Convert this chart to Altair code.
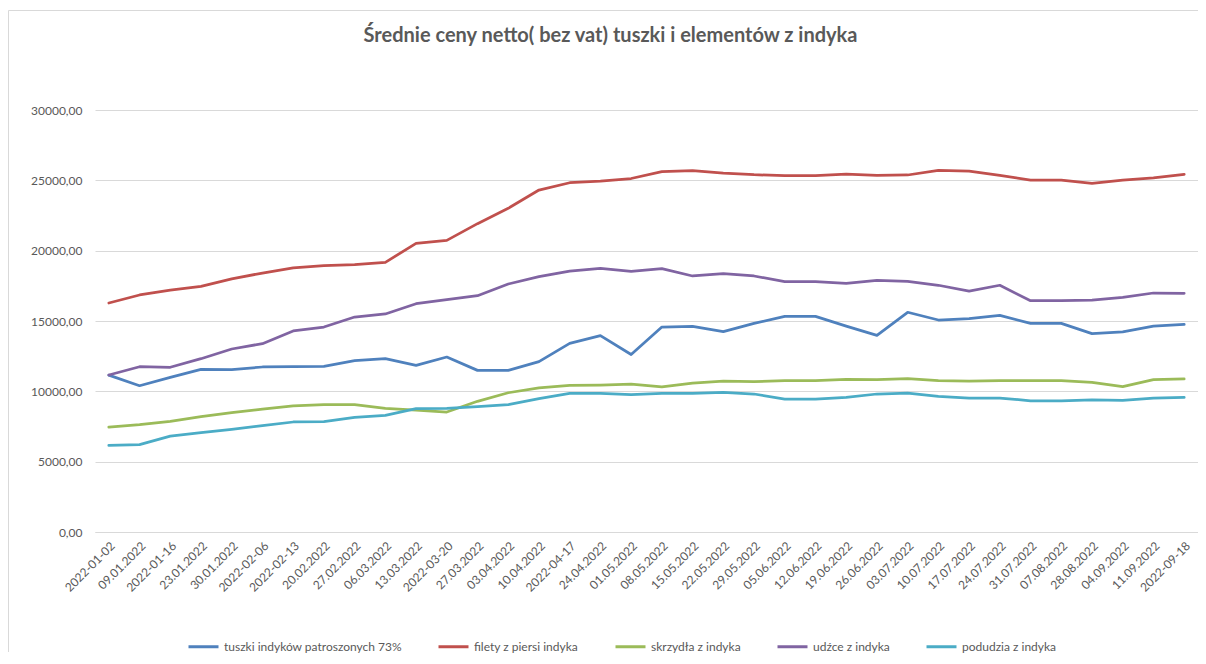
import altair as alt
import pandas as pd

dates = [
    "2022-01-02", "09.01.2022", "2022-01-16", "23.01.2022", "30.01.2022", "2022-02-06",
    "2022-02-13", "20.02.2022", "27.02.2022", "06.03.2022", "13.03.2022", "2022-03-20",
    "27.03.2022", "03.04.2022", "10.04.2022", "2022-04-17", "24.04.2022", "01.05.2022",
    "08.05.2022", "15.05.2022", "22.05.2022", "29.05.2022", "05.06.2022", "12.06.2022",
    "19.06.2022", "26.06.2022", "03.07.2022", "10.07.2022", "17.07.2022", "24.07.2022",
    "31.07.2022", "07.08.2022", "28.08.2022", "04.09.2022", "11.09.2022", "2022-09-18",
]

series_names = [
    "tuszki indyków patroszonych 73%",
    "filety z piersi indyka",
    "skrzydła z indyka",
    "udźce z indyka",
    "podudzia z indyka",
]

tuszki = [11150, 10400, 10990, 11560, 11540, 11730, 11750, 11780, 12180, 12320, 11850, 12440,
          11490, 11490, 12110, 13410, 13960, 12620, 14570, 14620, 14240, 14830, 15330, 15330,
          14640, 13980, 15620, 15070, 15170, 15400, 14830, 14830, 14100, 14220, 14640, 14760]
filety = [16280, 16850, 17200, 17460, 17990, 18410, 18770, 18930, 19000, 19170, 20520, 20730,
          21920, 23010, 24310, 24830, 24950, 25130, 25620, 25690, 25520, 25400, 25330, 25330,
          25450, 25360, 25380, 25710, 25660, 25360, 25020, 25020, 24790, 25020, 25170, 25430]
skrzydla = [7460, 7630, 7870, 8200, 8480, 8740, 8960, 9050, 9050, 8790, 8670, 8530,
            9290, 9900, 10240, 10420, 10450, 10510, 10310, 10590, 10730, 10690, 10760, 10760,
            10850, 10830, 10900, 10760, 10730, 10760, 10760, 10760, 10640, 10330, 10830, 10880]
udzce = [11160, 11750, 11710, 12320, 13010, 13390, 14290, 14570, 15280, 15500, 16230, 16520,
         16800, 17630, 18150, 18550, 18740, 18520, 18720, 18200, 18360, 18200, 17800, 17800,
         17680, 17890, 17820, 17540, 17130, 17540, 16440, 16440, 16490, 16680, 16990, 16970]
podudzia = [6160, 6210, 6820, 7060, 7300, 7560, 7820, 7840, 8150, 8290, 8770, 8790,
            8910, 9050, 9480, 9860, 9860, 9770, 9860, 9860, 9930, 9810, 9450, 9450,
            9570, 9810, 9880, 9640, 9520, 9520, 9330, 9330, 9400, 9360, 9520, 9570]

colors = ["#4F81BD", "#C0504D", "#9BBB59", "#8064A2", "#4BACC6"]
y_ticks = [0, 5000, 10000, 15000, 20000, 25000, 30000]

rows = []
for name, vals in zip(series_names, [tuszki, filety, skrzydla, udzce, podudzia]):
    for i, (d, v) in enumerate(zip(dates, vals)):
        rows.append({"data": d, "seria": name, "cena": v, "idx": i})
df = pd.DataFrame(rows)

TXT = "#595959"
FONT = "Lato"
W, H = 1103, 422

one = pd.DataFrame({"k": [0]})
border_top = alt.Chart(one).mark_rule(stroke="#D9D9D9", strokeWidth=1).encode(
    x=alt.value(-86.5), x2=alt.value(W + 10), y=alt.value(-99.5)
)
border_left = alt.Chart(one).mark_rule(stroke="#D9D9D9", strokeWidth=1).encode(
    x=alt.value(-86.5), y=alt.value(-99.5), y2=alt.value(H + 120)
)

lines = alt.Chart(df).mark_line(strokeWidth=2.75, strokeJoin="round", strokeCap="round").encode(
    x=alt.X(
        "data:N",
        sort=dates,
        scale=alt.Scale(type="point", padding=0.45),
        axis=alt.Axis(
            title=None, labelAngle=-45, labelAlign="right", labelBaseline="top",
            labelPadding=8, ticks=False, domainColor="#D9D9D9", grid=False,
            labelFont=FONT, labelFontSize=12, labelColor=TXT, labelOverlap=False,
        ),
    ),
    y=alt.Y(
        "cena:Q",
        scale=alt.Scale(domain=[0, 30000], nice=False),
        axis=alt.Axis(
            title=None, values=y_ticks,
            labelExpr="replace(format(datum.value, '.2f'), '.', ',')",
            grid=True, gridColor="#D9D9D9", domain=False, ticks=False, labelPadding=13,
            labelFont=FONT, labelFontSize=12, labelColor=TXT,
        ),
    ),
    color=alt.Color(
        "seria:N",
        sort=series_names,
        scale=alt.Scale(domain=series_names, range=colors),
        legend=alt.Legend(
            title=None, orient="none", direction="horizontal", legendX=92, legendY=520,
            symbolType="stroke", symbolSize=900, symbolStrokeWidth=3,
            labelFont=FONT, labelFontSize=12, labelColor=TXT, labelOffset=4,
            labelLimit=400, columnPadding=30, padding=0,
        ),
    ),
    order=alt.Order("idx:Q"),
)

chart = alt.layer(border_top, border_left, lines).properties(
    width=W,
    height=H,
    title=alt.TitleParams(
        "Średnie ceny netto( bez vat) tuszki i elementów z indyka",
        font=FONT, fontSize=20, fontWeight="bold", color=TXT,
        anchor="middle", dx=-36, offset=-36,
    ),
    padding={"left": 87, "top": 102, "right": 0, "bottom": 122},
    autosize=alt.AutoSizeParams(type="none"),
).configure_view(strokeWidth=0)

chart.save("out.html", embed_options={"renderer": "svg", "actions": False})
